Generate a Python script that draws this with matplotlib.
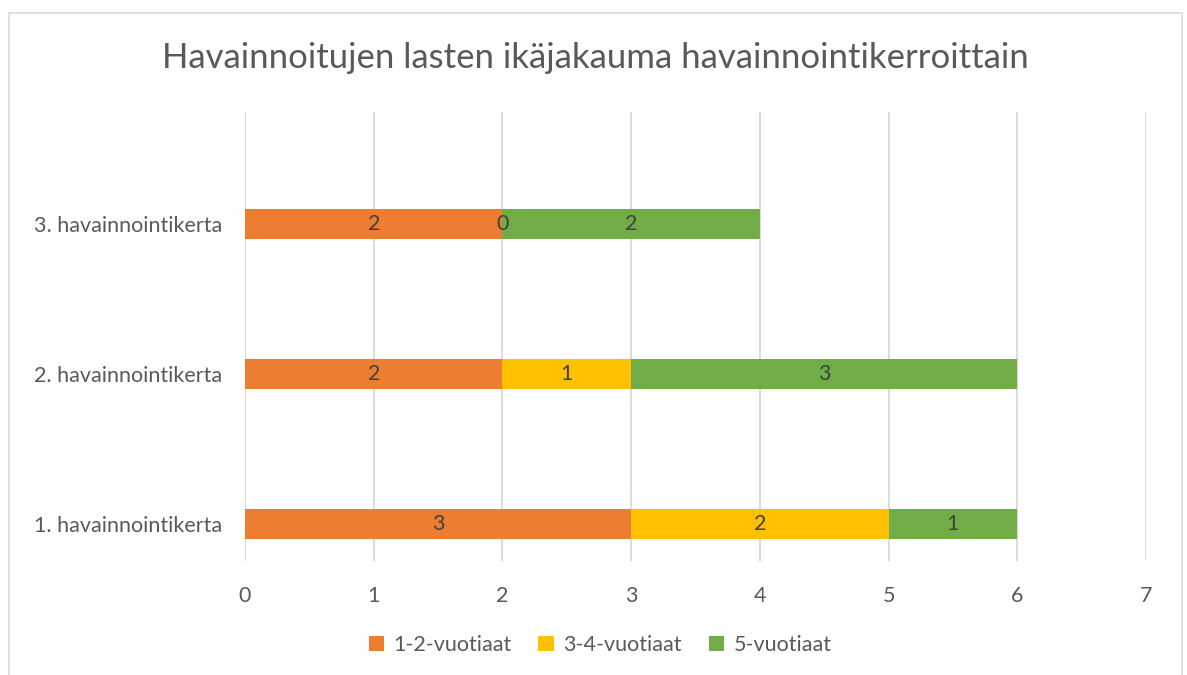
import matplotlib.pyplot as plt
from matplotlib.patches import Rectangle

# Aineisto
kerrat = ['1. havainnointikerta', '2. havainnointikerta', '3. havainnointikerta']
ryhmat = ['1-2-vuotiaat', '3-4-vuotiaat', '5-vuotiaat']
v12 = [3, 2, 2]
v34 = [2, 1, 0]
v5 = [1, 3, 2]
x_ticks = [0, 1, 2, 3, 4, 5, 6, 7]

colors = ['#ED7D31', '#FFC000', '#70AD47']
text_col = '#595959'

plt.rcParams['font.family'] = ['Lato', 'DejaVu Sans']

fig = plt.figure(figsize=(11.87, 6.75), dpi=100)
W, H = 1187, 675
ax = fig.add_axes([245 / W, 1 - 561 / H, (1146 - 245) / W, (561 - 112) / H])

ypos = list(range(len(kerrat)))
left = [0] * len(kerrat)
for name, vals, c in zip(ryhmat, [v12, v34, v5], colors):
    ax.barh(ypos, vals, left=left, height=0.2, color=c, label=name,
            edgecolor='none', zorder=3)
    for y, l, v in zip(ypos, left, vals):
        ax.text(l + v / 2, y, str(v), ha='center', va='center',
                fontsize=15.5, color='#404040', zorder=4)
    left = [a + b for a, b in zip(left, vals)]

ax.set_xlim(0, 7)
ax.set_ylim(-0.247, 2.747)
ax.set_xticks(x_ticks)
ax.set_yticks(ypos)
ax.set_yticklabels(kerrat)
ax.grid(axis='x', color='#D9D9D9', linewidth=1.3, zorder=0)
for s in ax.spines.values():
    s.set_visible(False)
ax.tick_params(length=0, labelsize=15.5, labelcolor=text_col)
ax.tick_params(axis='x', pad=18)
ax.tick_params(axis='y', pad=16.5)

fig.text(595 / W, 1 - 58 / H, 'Havainnoitujen lasten ikäjakauma havainnointikerroittain',
         ha='center', va='center', fontsize=25, color=text_col)

leg = fig.legend(loc='center', bbox_to_anchor=(600 / W, 1 - 645 / H), ncol=3,
                 frameon=False, fontsize=15.5, handlelength=0.7, handleheight=0.7,
                 handletextpad=0.45, columnspacing=1.25)
for t in leg.get_texts():
    t.set_color(text_col)

fig.patches.append(Rectangle((9 / W, -0.01), (1182 - 9) / W, 1.01 - 13 / H,
                             transform=fig.transFigure, fill=False,
                             edgecolor='#D9D9D9', linewidth=1.2))

fig.savefig('out.png', dpi=100)
